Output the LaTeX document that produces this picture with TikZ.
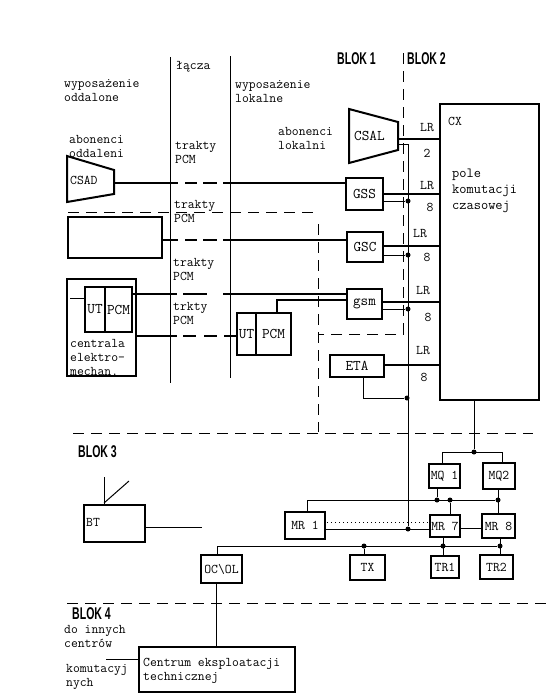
\documentclass[tikz,border=0pt]{standalone}
\usepackage{fontspec}
\newfontfamily\blokfamily{Liberation Sans}
\usetikzlibrary{arrows.meta,positioning,calc}
\newcommand{\BlokText}[1]{\scalebox{0.62}[1.0]{\fontsize{17}{17}\selectfont\blokfamily\bfseries #1}}
\tikzset{
  lbl/.style={anchor=west,inner sep=0pt,align=left,font=\fontsize{13.3}{14}\selectfont\ttfamily},
  tag/.style={inner sep=0pt,font=\fontsize{13.3}{14}\selectfont\ttfamily},
  blok/.style={inner sep=0pt,anchor=west},
  box/.style={draw=black,line width=2pt,inner sep=0pt,outer sep=0pt,font=\fontsize{13.3}{14}\selectfont\ttfamily},
  bigbox/.style={box,font=\fontsize{14.8}{14}\selectfont\ttfamily},
  dot/.style={circle,fill=black,inner sep=0pt,minimum size=5pt},
  link/.style={draw=black,line width=1.8pt},
  wire/.style={draw=black,line width=1pt},
  border/.style={draw=black,line width=1pt,dash pattern=on 11pt off 7pt},
  dotline/.style={draw=black,line width=1pt,dash pattern=on 1pt off 3pt}
}
\begin{document}
\begin{tikzpicture}[x=1pt,y=-1pt]
  \useasboundingbox[fill=white] (0,0) rectangle (555,699);

  % headings
  \node[blok] (blok1) at (337,59) {\BlokText{BLOK 1}};
  \node[blok] (blok2) at (407,59) {\BlokText{BLOK 2}};
  \node[blok] (blok3) at (78,452) {\BlokText{BLOK 3}};
  \node[blok] (blok4) at (72,614) {\BlokText{BLOK 4}};

  % column rules and block borders
  \draw[wire] (170,57) -- (170,383);
  \draw[wire] (230,56) -- (230,378);
  \draw[border] (403,53) -- (403,334) -- (318,334);
  \draw[border] (68,212) -- (318,212);
  \draw[border] (318,224) -- (318,432);
  \draw[border] (73,433) -- (533,433);
  \draw[border] (67,603) -- (547,603);

  % left side texts
  \node[lbl] (remote) at (64,91) {wyposażenie\\oddalone};
  \node[lbl] (links) at (176,67) {łącza};
  \node[lbl] (local) at (235,92) {wyposażenie\\lokalne};
  \node[lbl] (subsr) at (69,146) {abonenci\\oddaleni};
  \node[lbl] (subsl) at (278,138) {abonenci\\lokalni};
  \node[lbl] (pcma) at (175,153) {trakty\\PCM};
  \node[lbl] (pcmb) at (174,212) {trakty\\PCM};
  \node[lbl] (pcmc) at (173,270) {trakty\\PCM};
  \node[lbl] (pcmd) at (173,314) {trkty\\PCM};

  % concentrators
  \draw[line width=2pt] (67,156) -- (114,170) -- (114,194) -- (67,202) -- cycle;
  \node[lbl] (csad) at (70,180) {CSAD};
  \coordinate (csadout) at (114,183);
  \draw[line width=2pt] (349,109) -- (398,122) -- (398,150) -- (349,163) -- cycle;
  \node[lbl,font=\fontsize{14.8}{14}\selectfont\ttfamily] (csal) at (354,136) {CSAL};
  \coordinate (csalout) at (398,139);
  \coordinate (csaltap) at (398,144);

  % remote equipment
  \node[box,minimum width=94pt,minimum height=41pt] (remotebox) at (115,237.5) {};
  \node[box,minimum width=69pt,minimum height=97pt] (central) at (101.5,327.5) {};
  \node[lbl] (centraltxt) at (70,357) {centrala\\elektro-\\mechan.};
  \node[bigbox,minimum width=20pt,minimum height=45pt] (uta) at (95,309.5) {UT};
  \node[bigbox,minimum width=27pt,minimum height=45pt] (pcmua) at (118.5,309.5) {PCM};
  \coordinate (centralline) at (70,298);
  \draw[wire] (centralline) -- (uta.west |- centralline);
  \node[bigbox,minimum width=19pt,minimum height=42pt] (utb) at (246.5,334) {UT};
  \node[bigbox,minimum width=35pt,minimum height=42pt] (pcmub) at (273.5,334) {PCM};

  % group switches
  \node[bigbox,minimum width=37pt,minimum height=32pt] (gss) at (364.5,194) {GSS};
  \node[bigbox,minimum width=36pt,minimum height=30pt] (gsc) at (365,247) {GSC};
  \node[bigbox,minimum width=35pt,minimum height=30pt] (gsm) at (364.5,304) {gsm};
  \node[bigbox,minimum width=54pt,minimum height=22pt] (eta) at (357,366) {ETA};

  % time switch
  \node[box,minimum width=99pt,minimum height=296pt] (cx) at (489.5,252) {};
  \node[lbl] (cxtxt) at (448,121) {CX};
  \node[lbl,font=\fontsize{14}{16}\selectfont\ttfamily] (cxfield) at (452,191) {pole\\komutacji\\czasowej};

  % trunks across the links column
  \draw[link,dash pattern=on 64pt off 7pt on 12pt off 6pt on 14pt off 6pt on 300pt] (csadout) -- (gss.west |- csadout);
  \draw[link,dash pattern=on 16pt off 7pt on 12pt off 6pt on 14pt off 6pt on 300pt] (remotebox.east |- 0,240) -- (gsc.west |- 0,240);
  \draw[link,dash pattern=on 45pt off 6pt on 24pt off 16pt on 300pt] (pcmua.east |- 0,294) -- (gsm.west |- 0,294);
  \draw[link,dash pattern=on 41pt off 6pt on 13pt off 8pt on 13pt off 7pt on 50pt] (central.east |- 0,336) -- (utb.west |- 0,336);
  \draw[link] (gsm.west |- 0,300) -- (277,300) -- (277,313);

  % LR links to the time switch
  \draw[link] (csalout) -- (cx.west |- csalout);
  \draw[link] (gss.east |- 0,194) -- (cx.west |- 0,194);
  \draw[link] (gsc.east |- 0,246) -- (cx.west |- 0,246);
  \draw[link] (gsm.east |- 0,302) -- (cx.west |- 0,302);
  \draw[link] (eta.east |- 0,365) -- (cx.west |- 0,365);
  \node[tag] (lra) at (427,128) {LR};
  \node[tag] (na) at (427,153) {2};
  \node[tag] (lrb) at (427,186) {LR};
  \node[tag] (nb) at (430,207) {8};
  \node[tag] (lrc) at (420,234) {LR};
  \node[tag] (nc) at (427,257) {8};
  \node[tag] (lrd) at (423,291) {LR};
  \node[tag] (nd) at (428,317) {8};
  \node[tag] (lre) at (423,351) {LR};
  \node[tag] (ne) at (424,377) {8};

  % control bus
  \node[dot] (dgss) at (408,201) {};
  \node[dot] (dgsc) at (408,255) {};
  \node[dot] (dgsm) at (408,309) {};
  \node[dot] (deta) at (407,398) {};
  \node[dot] (dmr) at (408,529) {};
  \draw[wire] (csaltap) -- (408,144) -- (dmr);
  \draw[wire] (gss.east |- dgss) -- (dgss);
  \draw[wire] (gsc.east |- dgsc) -- (dgsc);
  \draw[wire] (gsm.east |- dgsm) -- (dgsm);
  \draw[wire] (eta.south -| 363,0) -- (363,398) -- (deta);

  % block 3
  \node[box,minimum width=31pt,minimum height=24pt] (mqa) at (444.5,476) {MQ 1};
  \node[box,minimum width=32pt,minimum height=26pt] (mqb) at (499,476) {MQ2};
  \node[box,minimum width=40pt,minimum height=27pt] (mra) at (305,525.5) {MR 1};
  \node[box,minimum width=30pt,minimum height=22pt] (mrg) at (445,526) {MR 7};
  \node[box,minimum width=33pt,minimum height=24pt] (mrh) at (498.5,526) {MR 8};
  \node[box,minimum width=41pt,minimum height=28pt] (ocol) at (221.5,569) {OC\textbackslash OL};
  \node[box,minimum width=35pt,minimum height=25pt] (tx) at (367.5,567.5) {TX};
  \node[box,minimum width=28pt,minimum height=22pt] (tra) at (445,567) {TR1};
  \node[box,minimum width=33pt,minimum height=24pt] (trb) at (496.5,567) {TR2};
  \node[box,anchor=north west,minimum width=61pt,minimum height=37pt] (bt) at (84,505) {};
  \node[lbl] (bttxt) at (86,522) {BT};

  \node[dot] (dcx) at (474,452) {};
  \node[dot] (dma) at (437,500) {};
  \node[dot] (dmb) at (450,500) {};
  \node[dot] (dmc) at (498,500) {};
  \node[dot] (dtx) at (364,546) {};
  \node[dot] (dta) at (443,546) {};
  \node[dot] (dtb) at (500,546) {};

  \draw[wire] (cx.south -| dcx) -- (dcx);
  \draw[wire] (mqa.north -| 442,0) -- (442,452) -- (502,452) -- (mqb.north -| 502,0);
  \draw[wire] (mra.north -| 307,0) -- (307,500) -- (dmc);
  \draw[wire] (mqa.south -| dma) -- (dma);
  \draw[wire] (dmb) -- (mrg.north -| dmb);
  \draw[wire] (mqb.south -| dmc) -- (mrh.north -| dmc);
  \draw[dotline] (327,522) -- (mrg.west |- 0,522);
  \draw[wire] (mra.east |- dmr) -- (mrg.west |- dmr);
  \draw[wire] (mrg.east |- 0,528) -- (mrh.west |- 0,528);
  \draw[wire] (ocol.north -| 217,0) -- (217,546) -- (dtb);
  \draw[wire] (dtx) -- (tx.north -| dtx);
  \draw[wire] (mrg.south -| dta) -- (tra.north -| dta);
  \draw[wire] (mrh.south -| dtb) -- (trb.north -| dtb);

  % base station stub
  \coordinate (btout) at (202,527);
  \coordinate (btmast) at (104,477);
  \coordinate (btarm) at (129,481);
  \draw[wire] (bt.east |- btout) -- (btout);
  \draw[wire] (bt.north -| btmast) -- (btmast);
  \draw[wire] (104,503) -- (btarm);

  % block 4
  \node[box,anchor=north west,minimum width=156pt,minimum height=45pt] (centre) at (139,647) {};
  \node[lbl] (centretxt) at (143,671) {Centrum eksploatacji\\technicznej};
  \node[lbl] (othera) at (64,636) {do innych\\centrów};
  \node[lbl] (otherb) at (66,677) {komutacyj\\nych};
  \coordinate (centrein) at (106,659);
  \draw[wire] (centrein) -- (centre.west |- centrein);
  \draw[wire] (ocol.south -| 216,0) -- (centre.north -| 216,0);
\end{tikzpicture}
\end{document}
